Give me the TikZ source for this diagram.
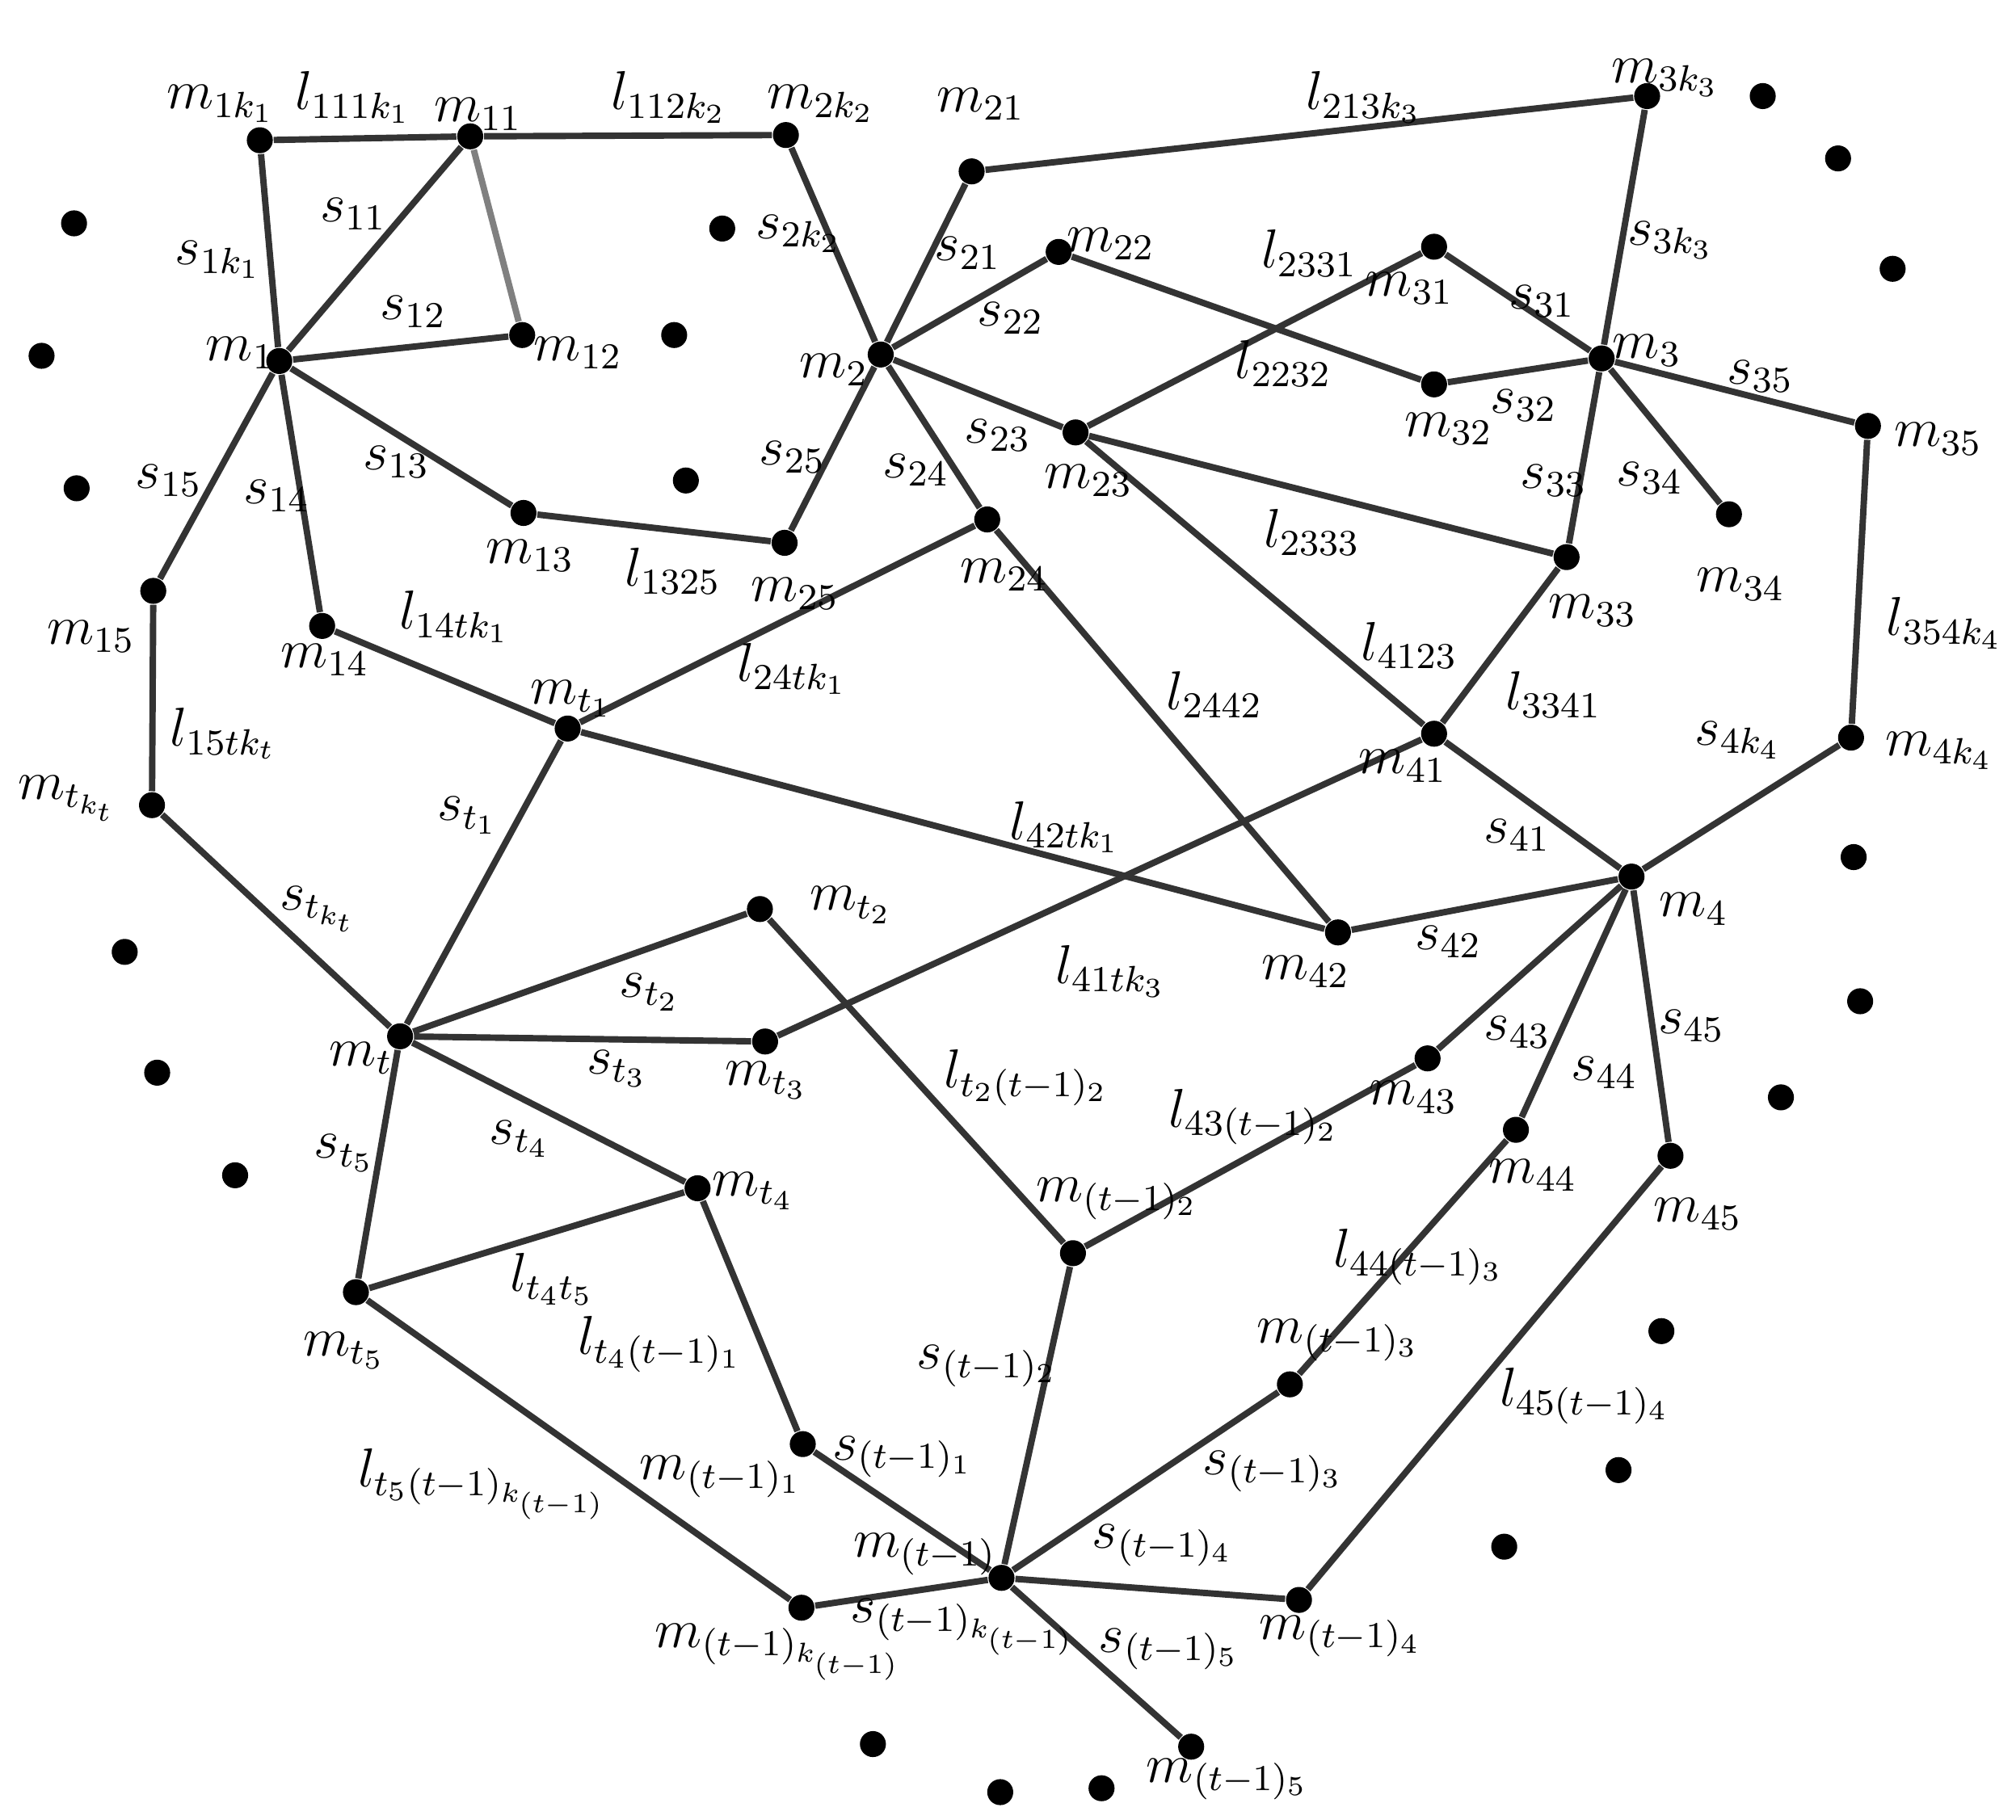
\documentclass[tikz,border=0pt]{standalone}
\begin{document}
\begin{tikzpicture}[x=0.01cm,y=-0.01cm,
 dot/.style={circle,fill=black,inner sep=0pt,minimum size=0.2cm},
 e/.style={line width=1.4pt,draw=black!80},
 lb/.style={font=\large,inner sep=1pt}]
\useasboundingbox (0,0) rectangle (1552,1401);
\foreach \n/\x/\y in {a/200/108,b/362/105,c/605/104,d/748/132,e3/1268/74,m1/215/278,m12/402/258,m13/403/395,m25/604/418,m2/678/273,m22/815/194,m31/1104/190,m32/1104/296,m3/1233/276,m35/1438/328,m23/828/333,m24/760/400,m33/1206/429,m34/1331/396,m15/118/455,m14/248/482,mt1/437/561,m41/1104/565,m4k/1425/568,mtk/117/620,m4/1256/675,m42/1030/718,mt2/585/700,mt/308/798,mt3/589/802,m43/1099/815,m44/1167/870,m45/1286/890,mt4/537/915,q2/826/965,mt5/274/995,q3/993/1066,q1/618/1112,q/771/1215,qk/617/1238,q4/1000/1232,q5/917/1345}
  \node[dot] (\n) at (\x,\y) {};
\foreach \i/\x/\y in {1/57/172,2/556/176,3/32/274,4/519/258,5/59/376,6/528/370,7/1357/74,8/1415/122,9/1457/207,10/1427/660,11/1432/771,12/1371/845,13/96/733,14/121/826,15/181/905,16/1279/1025,17/1246/1132,18/1158/1191,19/672/1343,20/770/1380,21/848/1377}
  \node[dot] (z\i) at (\x,\y) {};
\foreach \p/\r in {a/b,b/c,a/m1,b/m1,m1/m12,m1/m13,m13/m25,m1/m15,m1/m14,m15/mtk,m14/mt1,mt1/m24,mt1/m42,mt1/mt,mtk/mt,c/m2,d/m2,d/e3,m2/m22,m22/m32,m32/m3,m2/m23,m2/m25,m2/m24,m24/m42,m23/m31,m31/m3,m23/m33,m23/m41,m3/e3,m3/m33,m3/m34,m3/m35,m35/m4k,m4k/m4,m33/m41,m41/m4,m41/mt3,m42/m4,m4/m43,m4/m44,m4/m45,m43/q2,mt2/q2,mt/mt2,mt/mt3,mt/mt4,mt/mt5,mt5/mt4,mt4/q1,mt5/qk,qk/q,q1/q,q/q5,q2/q,q/q3,q3/m44,q/q4,q4/m45}
  \draw[e] (\p) -- (\r);
\draw[line width=1.4pt,draw=black!50] (b) -- (m12);
\foreach \x/\y/\t in {
170/80/m_{1k_1},272/75/l_{111k_1},368/88/m_{11},515/75/l_{112k_2},632/80/m_{2k_2},755/80/m_{21},1050/75/l_{213k_3},1282/60/m_{3k_3},
168/200/s_{1k_1},272/165/s_{11},318/240/s_{12},185/272/m_1,445/272/m_{12},
615/180/s_{2k_2},745/195/s_{21},778/245/s_{22},855/188/m_{22},1008/195/l_{2331},1085/222/m_{31},1187/232/s_{31},1286/185/s_{3k_3},
642/285/m_2,1268/270/m_3,1355/290/s_{35},1492/338/m_{35},988/280/l_{2232},1115/330/m_{32},1173/312/s_{32},
130/370/s_{15},213/382/s_{14},305/356/s_{13},610/352/s_{25},705/362/s_{24},768/335/s_{23},838/370/m_{23},1196/370/s_{33},1270/368/s_{34},
408/428/m_{13},518/440/l_{1325},612/457/m_{25},773/443/m_{24},1010/410/l_{2333},1226/470/m_{33},1340/450/m_{34},
70/490/m_{15},250/508/m_{14},350/475/l_{14tk_1},440/538/m_{t_1},610/515/l_{24tk_1},935/535/l_{2442},1085/497/l_{4123},1196/535/l_{3341},1497/480/l_{354k_4},
172/565/l_{15tk_t},52/615/m_{t_{k_t}},360/628/s_{t_1},1080/590/m_{41},1338/570/s_{4k_4},1493/578/m_{4k_4},
245/700/s_{t_{k_t}},820/637/l_{42tk_1},1168/643/s_{41},655/697/m_{t_2},1304/700/m_4,500/764/s_{t_2},855/748/l_{41tk_3},1005/748/m_{42},1115/725/s_{42},
278/815/m_t,475/823/s_{t_3},590/832/m_{t_3},1168/795/s_{43},1302/790/s_{45},1235/826/s_{44},790/830/l_{t_2(t-1)_2},1088/845/m_{43},
265/888/s_{t_5},400/877/s_{t_4},580/917/m_{t_4},965/860/l_{43(t-1)_2},1180/905/m_{44},1307/935/m_{45},
425/985/l_{t_4t_5},860/923/m_{(t-1)_2},1092/968/l_{44(t-1)_3},265/1040/m_{t_5},508/1035/l_{t_4(t-1)_1},1030/1032/m_{(t-1)_3},
760/1052/s_{(t-1)_2},1220/1075/l_{45(t-1)_4},695/1122/s_{(t-1)_1},980/1133/s_{(t-1)_3},555/1137/m_{(t-1)_1},372/1143/l_{t_5(t-1)_{k_{(t-1)}}},
895/1190/s_{(t-1)_4},712/1197/m_{(t-1)},742/1253/s_{(t-1)_{k_{(t-1)}}},900/1270/s_{(t-1)_5},1032/1260/m_{(t-1)_4},600/1272/m_{(t-1)_{k_{(t-1)}}},945/1370/m_{(t-1)_5}}
  \node[lb] at (\x,\y) {$\t$};
\end{tikzpicture}
\end{document}
